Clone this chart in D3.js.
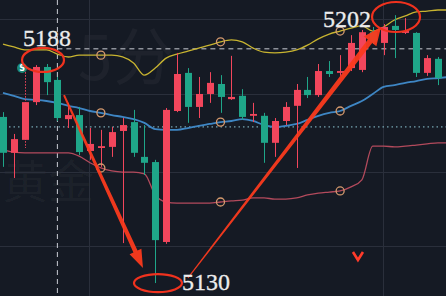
<!DOCTYPE html>
<html lang="zh">
<head>
  <meta charset="UTF-8">
  <title>黄金 5分 K线</title>
  <script src="https://d3js.org/d3.v7.min.js"></script>
  <style>
    html, body {
      margin: 0;
      padding: 0;
      background: #151a24;
      overflow: hidden;
    }
    svg { display: block; }
    .label {
      font-family: "Liberation Serif", "DejaVu Serif", serif;
      font-size: 24px;
      fill: #ececec;
      stroke: #ececec;
      stroke-width: 0.3px;
    }
    .wm {
      font-family: "Noto Sans CJK SC", sans-serif;
      fill: #ffffff;
      fill-opacity: 0.04;
    }
  </style>
</head>
<body>
  <svg width="446" height="296"></svg>

  <script>
    const width = 446;
    const height = 296;

    // K线 (index 0..41)
    const open  = [5174.9, 5165.2, 5168.7, 5178.9, 5188.4, 5184.9, 5174.3, 5175.4, 5165.7, 5166.5,
                   5166.8, 5171.1, 5173.5, 5164.1, 5162.7, 5141.1, 5176.5, 5186.8, 5177.6, 5181.1,
                   5183.8, 5179.7, 5180.6, 5175.2, 5175.2, 5167.9, 5173.8, 5177.9, 5182.2, 5180.8,
                   5187.3, 5186.8, 5188.1, 5187.6, 5197.8, 5194.9, 5199.5, 5197.6, 5197.6, 5186.8,
                   5190.6, 5189.7];
    const high  = [5176.2, 5170.3, 5187.0, 5188.9, 5189.2, 5185.7, 5178.7, 5177.6, 5171.9, 5171.4,
                   5172.2, 5174.6, 5176.8, 5172.7, 5163.3, 5177.3, 5192.2, 5188.1, 5185.7, 5187.0,
                   5186.2, 5191.4, 5182.4, 5178.7, 5176.0, 5174.6, 5178.9, 5183.8, 5185.7, 5189.2,
                   5190.0, 5191.6, 5197.0, 5198.4, 5199.2, 5200.0, 5202.4, 5201.6, 5197.8, 5191.6,
                   5191.1, 5190.3];
    const low   = [5161.4, 5158.4, 5166.5, 5178.1, 5180.8, 5173.8, 5171.9, 5164.6, 5163.3, 5161.4,
                   5164.1, 5140.8, 5164.1, 5159.2, 5130.0, 5140.6, 5176.2, 5173.3, 5174.6, 5178.7,
                   5176.0, 5179.5, 5174.1, 5173.5, 5162.5, 5164.1, 5172.7, 5161.1, 5180.0, 5180.3,
                   5185.7, 5186.0, 5187.3, 5187.0, 5194.6, 5191.6, 5190.8, 5197.3, 5185.7, 5186.0,
                   5183.5, 5183.8];
    const close = [5165.2, 5168.9, 5178.9, 5188.4, 5184.3, 5174.6, 5175.4, 5165.4, 5167.6, 5167.0,
                   5170.8, 5172.7, 5165.2, 5162.5, 5141.6, 5176.8, 5186.5, 5177.6, 5181.1, 5184.1,
                   5180.3, 5180.3, 5174.9, 5175.7, 5167.9, 5173.8, 5177.6, 5182.2, 5180.8, 5187.3,
                   5186.5, 5187.3, 5194.9, 5197.8, 5195.2, 5199.2, 5198.4, 5198.1, 5186.8, 5190.8,
                   5185.4, 5184.9];

    // 布林带
    const upper  = [5194.6, 5193.8, 5193.0, 5193.0, 5193.0, 5191.9, 5191.1, 5191.6, 5191.6, 5191.6,
                    5191.6, 5191.1, 5189.5, 5186.2, 5188.1, 5190.8, 5191.9, 5192.7, 5193.5, 5194.3,
                    5195.2, 5195.7, 5195.2, 5193.5, 5192.4, 5192.2, 5192.4, 5193.0, 5194.3, 5196.0,
                    5197.3, 5198.1, 5198.9, 5199.5, 5198.1, 5199.2, 5201.1, 5202.2, 5203.3, 5203.5,
                    5203.8, 5203.8];
    const middle = [5181.4, 5180.6, 5179.7, 5179.5, 5179.2, 5178.7, 5177.9, 5177.3, 5176.5, 5176.0,
                    5175.4, 5174.9, 5174.3, 5173.3, 5171.6, 5171.4, 5171.4, 5171.9, 5172.5, 5173.0,
                    5173.5, 5173.8, 5174.3, 5173.8, 5172.7, 5172.2, 5172.5, 5173.0, 5174.1, 5175.2,
                    5176.0, 5176.5, 5177.9, 5179.2, 5181.1, 5183.0, 5183.5, 5184.1, 5184.6, 5185.2,
                    5185.4, 5185.7];
    const lower  = [5166.0, 5165.4, 5165.2, 5165.2, 5165.2, 5165.2, 5165.2, 5164.3, 5162.5, 5161.1,
                    5160.3, 5160.0, 5160.0, 5159.5, 5153.8, 5151.9, 5151.6, 5151.6, 5151.6, 5151.6,
                    5151.9, 5152.2, 5152.4, 5153.0, 5153.0, 5152.7, 5152.7, 5153.0, 5153.8, 5154.3,
                    5154.6, 5154.9, 5156.0, 5157.9, 5167.0, 5167.0, 5166.8, 5167.0, 5167.3, 5167.6,
                    5167.9, 5167.9];
    const bandMarks = [9, 20, 31];

    const gridPrices = [5140, 5160, 5181, 5201.5];
    const gridIdx = [7.9, 34.9];
    const crossIdx = 5;
    const crossPrice = 5193.3;
    const lastPrice = 5172.2;

    // 标注
    const marks = [
      {text: "5188", i: 1.84, p: 5194.1, ci: 3.68, cp: 5190.3, rx: 21, ry: 12},
      {text: "5130", i: 16.46, p: 5128.1, ci: 14.25, cp: 5130.0, rx: 24, ry: 9},
      {text: "5202", i: 29.43, p: 5199.2, ci: 36.14, cp: 5201.9, rx: 24, ry: 15}
    ];
    const arrows = [
      {i0: 5.61, p0: 5180.8, i1: 12.87, p1: 5134.1, w0: 2, w1: 4.5, hl: 18, hw: 6.5},
      {i0: 17.01, p0: 5131.4, i1: 34.76, p1: 5199.2, w0: 1, w1: 5.5, hl: 18, hw: 8}
    ];
    const signal = {i: 32.64, p: 5137.3};
    const sMark = {i: 1.75, p: 5188.1};

    const x = d3.scaleLinear().domain([0, 40]).range([3, 438]);
    const y = d3.scaleLinear().domain([5126.5, 5206.5]).range([height, 0]);

    const svg = d3.select("svg").attr("width", width).attr("height", height);
    svg.append("rect").attr("width", width).attr("height", height).attr("fill", "#151a24");

    // 水印
    svg.append("text").attr("class", "wm").attr("x", 78).attr("y", 80)
       .style("font-size", "62px").text("5分");
    svg.append("text").attr("class", "wm").attr("x", 2).attr("y", 198)
       .style("font-size", "46px").text("黄金");

    // 网格
    const grid = svg.append("g").attr("stroke", "#2a2f3b").attr("stroke-width", 1);
    grid.selectAll("line.h").data(gridPrices).enter().append("line")
        .attr("x1", 0).attr("x2", width)
        .attr("y1", d => Math.round(y(d)) + 0.5).attr("y2", d => Math.round(y(d)) + 0.5);
    grid.selectAll("line.v").data(gridIdx).enter().append("line")
        .attr("y1", 0).attr("y2", height)
        .attr("x1", d => Math.round(x(d)) + 0.5).attr("x2", d => Math.round(x(d)) + 0.5);

    // 十字线 / 现价线
    svg.append("line")
       .attr("x1", x(crossIdx)).attr("x2", x(crossIdx)).attr("y1", 0).attr("y2", height)
       .attr("stroke", "#c9ccd4").attr("stroke-width", 1).attr("stroke-dasharray", "5,4");
    svg.append("line")
       .attr("x1", x(crossIdx)).attr("x2", width).attr("y1", y(crossPrice)).attr("y2", y(crossPrice))
       .attr("stroke", "#c9ccd4").attr("stroke-width", 1).attr("stroke-dasharray", "5,4");
    svg.append("line")
       .attr("x1", 0).attr("x2", width).attr("y1", y(lastPrice)).attr("y2", y(lastPrice))
       .attr("stroke", "#8fc9d6").attr("stroke-width", 1).attr("stroke-dasharray", "1.5,3");

    // 布林带线
    const line = d3.line().x((d, i) => x(i)).y(d => y(d)).curve(d3.curveMonotoneX);
    [[upper, "#c8b430", 1.3], [middle, "#3e86c4", 1.8], [lower, "#b34a5c", 1.3]].forEach(b => {
      svg.append("path").datum(b[0])
         .attr("fill", "none").attr("stroke", b[1]).attr("stroke-width", b[2])
         .attr("d", line);
    });

    // K线
    const idx = d3.range(open.length);
    const up = i => close[i] >= open[i];
    const candle = svg.append("g").selectAll("g").data(idx).enter().append("g")
       .attr("fill", i => up(i) ? "#f2465c" : "#1fa689")
       .attr("stroke", i => up(i) ? "#f2465c" : "#1fa689");
    candle.append("line")
       .attr("x1", i => Math.round(x(i)) + 0.5).attr("x2", i => Math.round(x(i)) + 0.5)
       .attr("y1", i => y(high[i])).attr("y2", i => y(low[i]))
       .attr("stroke-width", 1)
       .attr("stroke-dasharray", i => i === 2 ? "1.5,1.5" : null);
    candle.append("rect")
       .attr("stroke", "none")
       .attr("x", i => Math.round(x(i)) - 3)
       .attr("width", 7)
       .attr("y", i => y(Math.max(open[i], close[i])))
       .attr("height", i => Math.max(1.5, Math.abs(y(open[i]) - y(close[i]))));

    // 布林带圆点
    [upper, middle, lower].forEach(b => {
      svg.selectAll(null).data(bandMarks).enter().append("circle")
         .attr("cx", i => x(i)).attr("cy", i => y(b[i])).attr("r", 4)
         .attr("fill", "none").attr("stroke", "#d59a6e").attr("stroke-width", 1.3);
    });

    // S 标记
    svg.append("circle").attr("cx", x(sMark.i)).attr("cy", y(sMark.p)).attr("r", 5)
       .attr("fill", "#1c8a78");
    svg.append("text").attr("x", x(sMark.i)).attr("y", y(sMark.p) + 3)
       .attr("text-anchor", "middle").attr("fill", "#ffffff")
       .style("font", "bold 8px 'DejaVu Sans', sans-serif").text("S");

    // 信号 V
    const sx = x(signal.i), sy = y(signal.p);
    svg.append("path")
       .attr("d", `M${sx - 5},${sy - 4} L${sx},${sy + 4} L${sx + 5},${sy - 4}`)
       .attr("fill", "none").attr("stroke", "#ff3b2a").attr("stroke-width", 2.6);

    // 箭头
    arrows.forEach(a => {
      const ax = x(a.i0), ay = y(a.p0), bx = x(a.i1), by = y(a.p1);
      const len = Math.hypot(bx - ax, by - ay);
      const ux = (bx - ax) / len, uy = (by - ay) / len;
      const nx = -uy, ny = ux;
      const hx = bx - ux * a.hl, hy = by - uy * a.hl;
      const pts = [
        [ax + nx * a.w0 / 2, ay + ny * a.w0 / 2],
        [hx + nx * a.w1 / 2, hy + ny * a.w1 / 2],
        [hx + nx * a.hw, hy + ny * a.hw],
        [bx, by],
        [hx - nx * a.hw, hy - ny * a.hw],
        [hx - nx * a.w1 / 2, hy - ny * a.w1 / 2],
        [ax - nx * a.w0 / 2, ay - ny * a.w0 / 2]
      ];
      svg.append("polygon").attr("points", pts.map(p => p.join(",")).join(" "))
         .attr("fill", "#fa3a1e").attr("fill-opacity", 0.95);
    });

    // 椭圆 + 价格
    marks.forEach(m => {
      svg.append("ellipse").attr("cx", x(m.ci)).attr("cy", y(m.cp))
         .attr("rx", m.rx).attr("ry", m.ry)
         .attr("fill", "none").attr("stroke", "#f0321e").attr("stroke-width", 2.2);
      svg.append("text").attr("class", "label")
         .attr("x", x(m.i)).attr("y", y(m.p)).text(m.text);
    });
  </script>
</body>
</html>
